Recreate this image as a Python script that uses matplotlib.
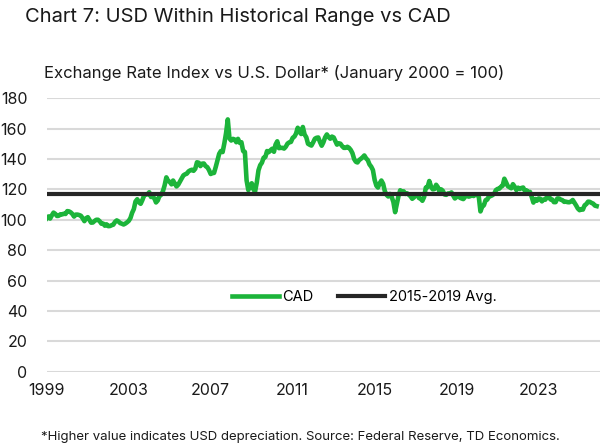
import matplotlib
matplotlib.use("Agg")
import matplotlib.pyplot as plt
import matplotlib.dates as mdates
import pandas as pd

# Monthly CAD exchange rate index vs USD, Jan 1999 - Nov 2025
cad_1999_2003 = [
    100.9, 102.2, 100.8, 102.9, 104.7, 103.9, 102.5, 102.6, 103.6, 103.5, 104.0, 103.8,
    105.7, 105.5, 104.9, 103.8, 102.1, 103.4, 103.4, 103.1, 102.6, 101.0, 99.1, 101.0,
    101.7, 99.8, 98.1, 98.2, 99.2, 100.0, 100.0, 99.0, 97.4, 97.5, 96.1, 97.0,
    95.8, 95.9, 96.4, 96.8, 98.6, 99.6, 98.9, 97.8, 97.4, 96.9, 97.5, 98.3,
    99.3, 101.2, 104.5, 107.0, 112.0, 113.5, 111.5, 110.5, 113.0, 116.0, 116.6, 116.7,
]
cad_2004_2008 = [
    118.1, 115.0, 115.2, 114.1, 111.4, 112.7, 115.7, 116.4, 118.8, 122.6, 127.9, 125.6,
    124.9, 123.3, 125.8, 123.8, 121.9, 123.1, 125.1, 127.1, 129.2, 129.9, 130.3, 131.8,
    132.5, 132.9, 132.2, 133.6, 137.8, 137.5, 135.3, 136.9, 137.0, 135.3, 134.6, 132.7,
    130.1, 130.7, 130.8, 134.8, 139.1, 143.4, 145.2, 144.5, 150.3, 156.9, 166.0, 153.5,
    152.1, 153.2, 152.8, 151.0, 153.2, 150.6, 151.0, 145.2, 144.6, 126.0, 119.5, 122.0,
]
cad_2009_2013 = [
    124.0, 120.0, 118.5, 124.5, 132.5, 135.9, 137.5, 140.8, 141.3, 145.2, 144.5, 145.7,
    146.7, 144.7, 149.4, 151.6, 147.1, 147.3, 147.3, 146.8, 148.1, 150.1, 150.9, 151.2,
    153.9, 154.7, 156.6, 160.5, 157.9, 156.4, 161.0, 156.1, 154.2, 150.0, 149.3, 148.8,
    150.9, 153.3, 153.9, 154.1, 151.2, 148.7, 150.9, 154.2, 156.1, 154.4, 153.3, 154.7,
    154.1, 151.6, 149.4, 150.3, 150.0, 148.4, 147.3, 147.3, 148.0, 147.3, 145.9, 143.8,
]
cad_2014_2018 = [
    139.9, 138.1, 137.7, 139.3, 140.1, 141.1, 142.3, 140.4, 139.2, 136.4, 134.9, 132.7,
    126.2, 122.4, 121.2, 124.0, 125.8, 123.7, 118.9, 116.4, 115.3, 117.0, 115.0, 111.7,
    105.0, 110.6, 115.6, 119.4, 118.1, 118.7, 117.0, 117.4, 116.5, 115.5, 113.8, 114.7,
    116.0, 116.7, 114.3, 113.8, 112.5, 115.0, 121.2, 121.4, 125.5, 122.0, 120.0, 120.2,
    123.0, 121.4, 118.5, 120.0, 119.0, 116.6, 116.4, 117.3, 117.2, 118.0, 115.9, 114.0,
]
cad_2019_2025 = [
    115.0, 115.9, 114.5, 114.0, 113.6, 115.1, 116.8, 115.2, 115.5, 116.1, 115.6, 116.6,
    116.5, 115.0, 105.5, 108.7, 109.5, 112.9, 113.3, 115.6, 115.6, 116.2, 117.1, 119.5,
    120.3, 120.5, 121.7, 122.4, 127.0, 124.6, 122.1, 121.4, 120.7, 123.4, 121.7, 119.5,
    121.1, 120.2, 120.9, 121.2, 119.1, 119.3, 118.2, 118.3, 115.0, 111.3, 113.6, 112.5,
    114.0, 113.8, 112.1, 113.3, 113.2, 115.2, 115.7, 113.4, 113.3, 111.6, 111.6, 114.0,
    114.0, 113.2, 112.9, 111.8, 111.9, 111.6, 111.5, 112.0, 113.0, 111.2, 109.4, 107.4,
    106.3, 107.0, 106.7, 109.5, 110.3, 111.9, 111.8, 111.1, 110.6, 109.3, 109.0,
]
cad = cad_1999_2003 + cad_2004_2008 + cad_2009_2013 + cad_2014_2018 + cad_2019_2025
avg_2015_2019 = 117.0

y_ticks = [0, 20, 40, 60, 80, 100, 120, 140, 160, 180]
x_tick_years = [1999, 2003, 2007, 2011, 2015, 2019, 2023]

dates = pd.date_range("1999-01-01", periods=len(cad), freq="MS")

plt.rcParams['font.family'] = ['Inter', 'DejaVu Sans']

fig = plt.figure(figsize=(6, 4.48), dpi=100)
ax = fig.add_axes([0.078, 0.17, 0.922, 0.611])

ax.plot(dates, cad, color='#1cb43a', lw=3.3, label='CAD', solid_joinstyle='round', zorder=3)
ax.axhline(avg_2015_2019, color='#262626', lw=3.0, label='2015-2019 Avg.', zorder=4)

ax.set_ylim(0, 180)
ax.set_yticks(y_ticks)
ax.set_xlim(pd.Timestamp("1999-01-01"), pd.Timestamp("2025-12-31"))
ax.set_xticks([pd.Timestamp(f"{y}-01-01") for y in x_tick_years])
ax.xaxis.set_major_formatter(mdates.DateFormatter('%Y'))

ax.grid(axis='y', color='#d9d9d9', lw=1.5)
ax.set_axisbelow(True)
for s in ax.spines.values():
    s.set_visible(False)
ax.tick_params(axis='both', length=0, labelsize=11.5, colors='#1a1a1a')
ax.tick_params(axis='y', pad=14)
ax.tick_params(axis='x', pad=8)

ax.legend(loc='center', bbox_to_anchor=(0.574, 0.274), ncol=2, frameon=False,
          fontsize=10.5, handlelength=3.2, handletextpad=0.25, columnspacing=1.7)

fig.text(0.042, 0.962, 'Chart 7: USD Within Historical Range vs CAD', fontsize=14.5,
         color='#1a1a1a', va='center')
fig.text(0.073, 0.837, 'Exchange Rate Index vs U.S. Dollar* (January 2000 = 100)',
         fontsize=12, color='#1a1a1a', va='center')
fig.text(0.5, 0.024, '*Higher value indicates USD depreciation. Source: Federal Reserve, TD Economics.',
         fontsize=9.5, color='#1a1a1a', ha='center', va='center')

fig.savefig('out.png', dpi=100)
